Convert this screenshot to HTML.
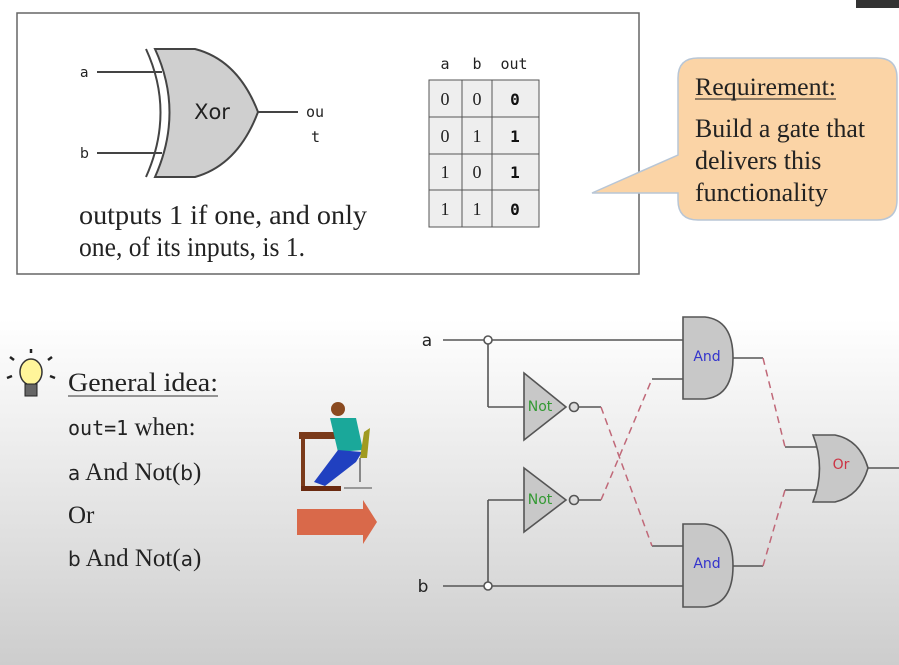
<!DOCTYPE html>
<html><head><meta charset="utf-8"><style>
html,body{margin:0;padding:0;width:899px;height:665px;overflow:hidden;background:#fff}
svg{display:block}
.tm{font-family:"Liberation Serif",serif;fill:#222}
.mono{font-family:"DejaVu Sans Mono","Liberation Mono",monospace}
.sans{font-family:"DejaVu Sans","Liberation Sans",sans-serif}
</style></head><body>
<svg width="899" height="665" viewBox="0 0 899 665" xmlns="http://www.w3.org/2000/svg">
<defs>
<linearGradient id="bg" x1="0" y1="0" x2="0" y2="1">
<stop offset="0" stop-color="#ffffff"/><stop offset="0.48" stop-color="#ffffff"/><stop offset="1" stop-color="#cdcdcd"/>
</linearGradient>
</defs>
<rect width="899" height="665" fill="url(#bg)"/>
<rect x="856" y="0" width="43" height="8" fill="#333"/>

<g>
<rect x="17" y="13" width="622" height="261" fill="#fff" stroke="#666" stroke-width="1.5"/>
<g stroke="#444" stroke-width="2">
<line x1="97" y1="72" x2="162" y2="72"/>
<line x1="97" y1="153" x2="162" y2="153"/>
<line x1="258" y1="112" x2="298" y2="112"/>
<path d="M146 49 Q175 112 146 177" fill="none"/>
<path d="M155 49 L195 49 Q238 60 258 112 Q238 165 195 177 L155 177 Q184 112 155 49 Z" fill="#cfcfcf"/>
</g>
<text x="212" y="119" text-anchor="middle" class="sans" font-size="21" fill="#222">Xor</text>
<text x="80" y="77" class="sans" font-size="14" fill="#222">a</text>
<text x="80" y="158" class="sans" font-size="14" fill="#222">b</text>
<text x="306" y="117" class="mono" font-size="15" fill="#222">ou</text>
<text x="311" y="142" class="mono" font-size="15" fill="#222">t</text>
<text x="79" y="224" class="tm" font-size="27" textLength="288" lengthAdjust="spacingAndGlyphs">outputs 1 if one, and only</text>
<text x="79" y="256" class="tm" font-size="27" textLength="226" lengthAdjust="spacingAndGlyphs">one, of its inputs, is 1.</text>
<g font-size="15">
<text x="445" y="69" text-anchor="middle" class="mono" fill="#222">a</text>
<text x="477" y="69" text-anchor="middle" class="mono" fill="#222">b</text>
<text x="514" y="69" text-anchor="middle" class="mono" fill="#222">out</text>
<rect x="429" y="80" width="110" height="147" fill="#eee" stroke="#555" stroke-width="1"/>
<line x1="462" y1="80" x2="462" y2="227" stroke="#555"/>
<line x1="492" y1="80" x2="492" y2="227" stroke="#555"/>
<line x1="429" y1="117" x2="539" y2="117" stroke="#555"/>
<line x1="429" y1="154" x2="539" y2="154" stroke="#555"/>
<line x1="429" y1="190" x2="539" y2="190" stroke="#555"/>
<g class="tm" font-size="18" text-anchor="middle">
<text x="445" y="105">0</text><text x="477" y="105">0</text>
<text x="445" y="142">0</text><text x="477" y="142">1</text>
<text x="445" y="178">1</text><text x="477" y="178">0</text>
<text x="445" y="215">1</text><text x="477" y="215">1</text>
</g>
<g class="mono" font-size="16" font-weight="bold" text-anchor="middle" fill="#111">
<text x="515" y="105">0</text><text x="515" y="142">1</text><text x="515" y="178">1</text><text x="515" y="215">0</text>
</g>
</g>
</g>

<g>
<path d="M698 58 L877 58 Q897 58 897 78 L897 200 Q897 220 877 220 L698 220 Q678 220 678 200 L678 193 L592 193 L678 155 L678 78 Q678 58 698 58 Z" fill="#fbd4a6" stroke="#b8c6d6" stroke-width="1.5"/>
<text x="695" y="95" class="tm" font-size="25" textLength="141" lengthAdjust="spacingAndGlyphs">Requirement:</text>
<line x1="695" y1="99" x2="836" y2="99" stroke="#222" stroke-width="1"/>
<text x="695" y="137" class="tm" font-size="26" textLength="170" lengthAdjust="spacingAndGlyphs">Build a gate that</text>
<text x="695" y="169" class="tm" font-size="26">delivers this</text>
<text x="695" y="201" class="tm" font-size="26">functionality</text>
</g>

<g>
<ellipse cx="31" cy="372" rx="11" ry="13" fill="#fff59a" stroke="#333" stroke-width="1.5"/>
<rect x="25" y="384" width="12" height="12" fill="#666" stroke="#222"/>
<g stroke="#222" stroke-width="2.5"><line x1="31" y1="349" x2="31" y2="353"/><line x1="14" y1="360" x2="10" y2="357"/><line x1="48" y1="360" x2="52" y2="357"/><line x1="12" y1="376" x2="7" y2="378"/><line x1="50" y1="376" x2="55" y2="378"/></g>
</g>
<text x="68" y="391" class="tm" font-size="26" fill="#333" textLength="150" lengthAdjust="spacingAndGlyphs">General idea:</text>
<line x1="68" y1="396" x2="218" y2="396" stroke="#333" stroke-width="1"/>
<text x="68" y="435" font-size="25" class="tm"><tspan class="mono" font-size="20">out=1</tspan> when:</text>
<text x="68" y="480" font-size="25" class="tm"><tspan class="sans" font-size="20">a</tspan> And Not(<tspan class="sans" font-size="20">b</tspan>)</text>
<text x="68" y="523" font-size="25" class="tm">Or</text>
<text x="68" y="566" font-size="25" class="tm"><tspan class="sans" font-size="20">b</tspan> And Not(<tspan class="sans" font-size="20">a</tspan>)</text>

<g>
<rect x="299" y="432" width="42" height="7" fill="#7a3a1a"/>
<rect x="301" y="439" width="4" height="50" fill="#7a3a1a"/>
<rect x="301" y="486" width="40" height="5" fill="#6a2a10"/>
<circle cx="338" cy="409" r="7" fill="#8a4a20"/>
<path d="M330 418 L356 418 L363 450 L338 452 Z" fill="#1aa89a"/>
<path d="M338 450 L362 452 L356 462 L325 486 L314 482 Z" fill="#2040c0"/>
<path d="M364 432 L370 428 L367 458 L360 458 Z" fill="#a09a20"/>
<line x1="360" y1="458" x2="360" y2="482" stroke="#888" stroke-width="2"/>
<line x1="344" y1="488" x2="372" y2="488" stroke="#999" stroke-width="2"/>
</g>
<path d="M297 509 L363 509 L363 500 L377 522 L363 544 L363 535 L297 535 Z" fill="#d9694a"/>

<g stroke="#555" stroke-width="1.6" fill="none">
<line x1="443" y1="340" x2="683" y2="340"/>
<line x1="488" y1="340" x2="488" y2="407"/>
<line x1="488" y1="407" x2="524" y2="407"/>
<line x1="443" y1="586" x2="683" y2="586"/>
<line x1="488" y1="500" x2="488" y2="586"/>
<line x1="488" y1="500" x2="524" y2="500"/>
<line x1="578" y1="407" x2="601" y2="407"/>
<line x1="578" y1="500" x2="601" y2="500"/>
<line x1="652" y1="379" x2="683" y2="379"/>
<line x1="652" y1="546" x2="683" y2="546"/>
<line x1="733" y1="358" x2="763" y2="358"/>
<line x1="733" y1="566" x2="763" y2="566"/>
<line x1="785" y1="447" x2="818" y2="447"/>
<line x1="785" y1="490" x2="818" y2="490"/>
<line x1="868" y1="468" x2="899" y2="468"/>
<circle cx="488" cy="340" r="4" fill="#fff"/>
<circle cx="488" cy="586" r="4" fill="#fff"/>
<path d="M524 373 L566 407 L524 440 Z" fill="#c8c8c8"/>
<circle cx="574" cy="407" r="4.5" fill="#ddd"/>
<path d="M524 468 L566 500 L524 532 Z" fill="#c8c8c8"/>
<circle cx="574" cy="500" r="4.5" fill="#ddd"/>
<path d="M683 317 L705 317 Q733 320 733 358 Q733 396 705 399 L683 399 Z" fill="#c8c8c8"/>
<path d="M683 524 L705 524 Q733 527 733 566 Q733 604 705 607 L683 607 Z" fill="#c8c8c8"/>
<path d="M813 435 L835 435 Q860 440 868 468 Q860 496 835 502 L813 502 Q826 468 813 435 Z" fill="#c8c8c8"/>
</g>
<g stroke="#c06878" stroke-width="1.5" stroke-dasharray="7,5" fill="none">
<line x1="601" y1="407" x2="652" y2="546"/>
<line x1="601" y1="500" x2="652" y2="379"/>
<line x1="763" y1="358" x2="785" y2="447"/>
<line x1="763" y1="566" x2="785" y2="490"/>
</g>
<text x="427" y="346" text-anchor="middle" class="sans" font-size="17" fill="#222">a</text>
<text x="423" y="592" text-anchor="middle" class="sans" font-size="17" fill="#222">b</text>
<g class="sans" font-size="14" text-anchor="middle">
<text x="540" y="411" fill="#339933">Not</text>
<text x="540" y="504" fill="#339933">Not</text>
<text x="707" y="361" fill="#3333cc">And</text>
<text x="707" y="568" fill="#3333cc">And</text>
<text x="841" y="469" fill="#cc3344">Or</text>
</g>
</svg>
</body></html>
